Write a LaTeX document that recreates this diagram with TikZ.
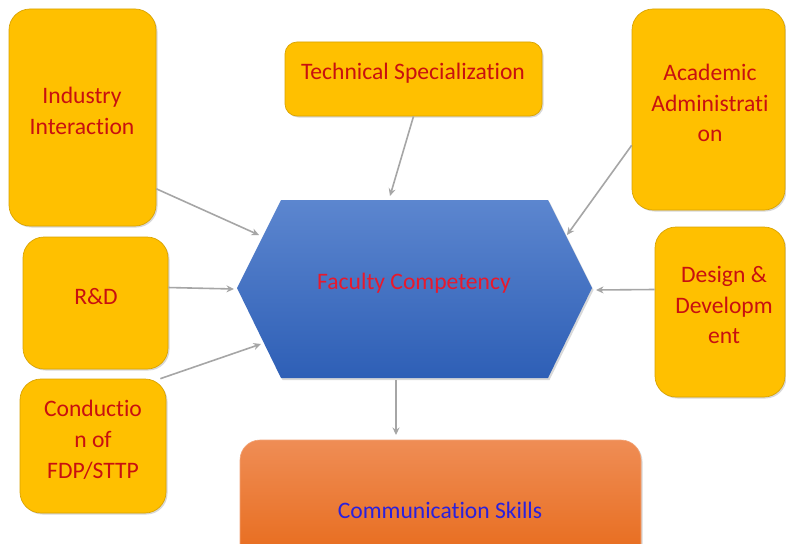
\documentclass[tikz,border=0pt]{standalone}
\usepackage{fontspec}
\setmainfont{Carlito}[Ligatures=NoCommon]
\usetikzlibrary{arrows.meta,shadows}
\definecolor{boxyellow}{HTML}{FFC000}
\definecolor{boxedge}{HTML}{D9A300}
\definecolor{boxtext}{HTML}{C81010}
\definecolor{arrowgray}{HTML}{A6A6A6}
\definecolor{hextop}{HTML}{5C86CF}
\definecolor{hexbot}{HTML}{2E5FB6}
\definecolor{hextext}{HTML}{E8192C}
\definecolor{commtop}{HTML}{EF8D55}
\definecolor{commbot}{HTML}{E76A1A}
\definecolor{commtext}{HTML}{2A20DD}
\begin{document}
\begin{tikzpicture}[x=1pt,y=-1pt,
  softshadow/.style={drop shadow={shadow xshift=1.5pt,shadow yshift=-1.5pt,opacity=0.25,fill=black!60}},
  ybox/.style={draw=boxedge,line width=0.7pt,fill=boxyellow,rounded corners=#1,inner sep=0pt,softshadow},
  ybox/.default=21pt,
  bigfont/.style={font=\fontsize{23.6}{30.8}\selectfont},
  ytext/.style={text=boxtext,align=center,inner sep=0pt,bigfont},
  conn/.style={draw=arrowgray,line width=1.6pt,-{Stealth[length=7.5pt,width=7pt]}}]
\clip (0,0) rectangle (786,543);
\fill[white] (0,0) rectangle (786,543);

% hexagon
\coordinate (h1) at (237,288);
\coordinate (h2) at (281,200);
\coordinate (h3) at (548,200);
\coordinate (h4) at (592,288);
\coordinate (h5) at (548,378);
\coordinate (h6) at (281,378);
\fill[black!60,opacity=0.25] ([shift={(1.5,2)}]h1) -- ([shift={(1.5,2)}]h2) -- ([shift={(1.5,2)}]h3) -- ([shift={(1.5,2)}]h4) -- ([shift={(1.5,2)}]h5) -- ([shift={(1.5,2)}]h6) -- cycle;
\shade[top color=hextop,bottom color=hexbot] (h1) -- (h2) -- (h3) -- (h4) -- (h5) -- (h6) -- cycle;
\node[text=hextext,inner sep=0pt,bigfont] (fc) at (414,283) {Faculty Competency};

% boxes
\node[ybox,minimum width=147pt,minimum height=217pt] (ind) at (82.5,117.5) {};
\node[ytext] (indt) at (82,111) {Industry\\Interaction};

\node[ybox=12pt,minimum width=257pt,minimum height=74pt] (tech) at (413.5,79) {};
\node[ytext] (techt) at (413,73) {Technical Specialization};

\node[ybox,minimum width=153pt,minimum height=201pt] (acad) at (708.5,109.5) {};
\node[ytext] (acadt) at (710,103) {Academic\\Administrati\\on};

\node[ybox,minimum width=145pt,minimum height=132pt] (rd) at (95.5,303) {};
\node[ytext] (rdt) at (96,297) {R\&D};

\node[ybox,minimum width=130pt,minimum height=170pt] (dd) at (720,312) {};
\node[ytext] (ddt) at (724,305) {Design \&\\Developm\\ent};

\node[ybox,minimum width=146pt,minimum height=134pt] (cond) at (93,446) {};
\node[ytext] (condt) at (93,440) {Conductio\\n of\\FDP/STTP};

\node[draw=commtop!80!white,line width=0.6pt,top color=commtop,bottom color=commbot,rounded corners=20pt,
      minimum width=401pt,minimum height=124pt,inner sep=0pt,softshadow] (comm) at (440.5,502) {};
\node[text=commtext,inner sep=0pt,bigfont] (commt) at (440,510) {Communication Skills};

% connector end points on the hexagon
\coordinate (e1) at (259,235);
\coordinate (e2) at (390,196);
\coordinate (e3) at (567,235);
\coordinate (e4) at (234,289);
\coordinate (e5) at (596,290);
\coordinate (e6) at (261,344);
\coordinate (e7) at (396,380);
\coordinate (e8) at (396,435);

\draw[conn] (ind.-44.6) -- (e1);
\draw[conn] (tech.south) -- (e2);
\draw[conn] (acad.-155.2) -- (e3);
\draw[conn] (rd.12.4) -- (e4);
\draw[conn] (dd.161.4) -- (e5);
\draw[conn] (cond.45.4) -- (e6);
\draw[conn] (e7) -- (e8);
\end{tikzpicture}
\end{document}
